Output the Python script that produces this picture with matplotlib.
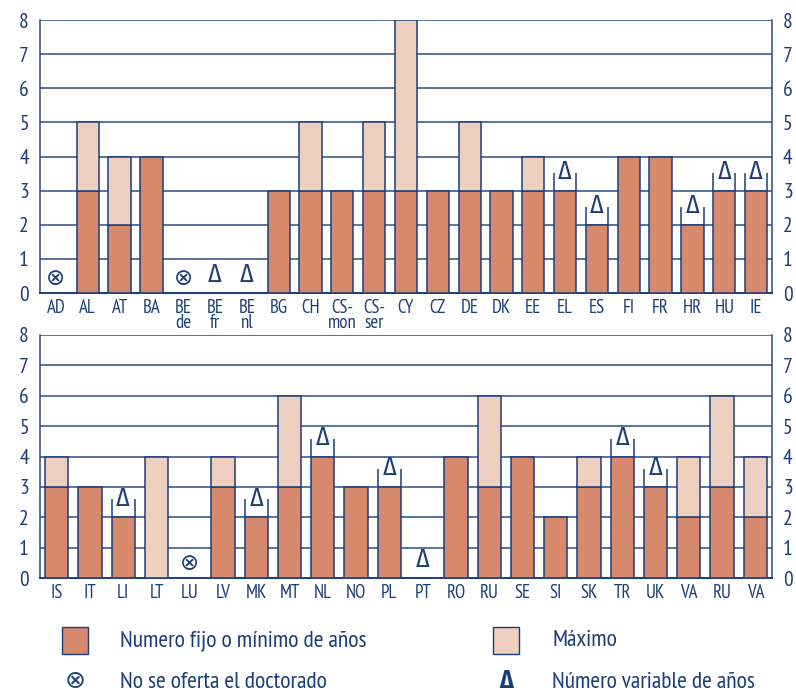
import matplotlib
matplotlib.use("Agg")
import matplotlib.pyplot as plt
from matplotlib import font_manager
from matplotlib.patches import Rectangle
import numpy as np

# ---------------- data ----------------
top_labels = ["AD", "AL", "AT", "BA", "BE\nde", "BE\nfr", "BE\nnl", "BG", "CH", "CS-\nmon",
              "CS-\nser", "CY", "CZ", "DE", "DK", "EE", "EL", "ES", "FI", "FR", "HR", "HU", "IE"]
top_min = [0, 3, 2, 4, 0, 0, 0, 3, 3, 3, 3, 3, 3, 3, 3, 3, 3, 2, 4, 4, 2, 3, 3]
top_max = [0, 5, 4, 4, 0, 0, 0, 3, 5, 3, 5, 8, 3, 5, 3, 4, 3, 2, 4, 4, 2, 3, 3]
top_none = ["AD", "BE\nde"]                       # no doctorate offered
top_var = ["BE\nfr", "BE\nnl", "EL", "ES", "HR", "HU", "IE"]   # variable number of years

bot_labels = ["IS", "IT", "LI", "LT", "LU", "LV", "MK", "MT", "NL", "NO", "PL",
              "PT", "RO", "RU", "SE", "SI", "SK", "TR", "UK", "VA", "RU", "VA"]
bot_min = [3, 3, 2, 0, 0, 3, 2, 3, 4, 3, 3, 0, 4, 3, 4, 2, 3, 4, 3, 2, 3, 2]
bot_max = [4, 3, 2, 4, 0, 4, 2, 6, 4, 3, 3, 0, 4, 6, 4, 2, 4, 4, 3, 4, 6, 4]
bot_none = [4]                                     # indices: LU
bot_var = [2, 6, 8, 10, 11, 17, 18]                # LI, MK, NL, PL, PT, TR, UK
top_none_idx = [top_labels.index(l) for l in top_none]
top_var_idx = [top_labels.index(l) for l in top_var]

legend_labels = ["Numero fijo o mínimo de años", "Máximo",
                 "No se oferta el doctorado", "Número variable de años"]

# ---------------- style ----------------
names = {f.name for f in font_manager.fontManager.ttflist}
main_font = "DejaVu Sans"
for cand in ["PT Sans Narrow", "Fira Sans Condensed", "Open Sans Condensed", "Roboto Condensed"]:
    if cand in names:
        main_font = cand
        break
sym_font = "Fira Sans Condensed" if "Fira Sans Condensed" in names else "DejaVu Sans"
plt.rcParams["font.family"] = [main_font, "DejaVu Sans"]

NAVY = "#1c3d78"
GRID = "#2a4c85"
DARK = "#d6896c"
LIGHT = "#efcfc0"
BAR_W = 0.70

W, H = 796, 693
fig = plt.figure(figsize=(W / 100, H / 100), dpi=100)

def panel(rect, labels, vmin, vmax, none_idx, var_idx):
    ax = fig.add_axes(rect)
    n = len(labels)
    x = np.arange(n)
    vmin = np.array(vmin, float)
    vmax = np.array(vmax, float)
    ax.set_xlim(-0.5, n - 0.5)
    ax.set_ylim(0, 8)
    for yv in range(1, 9):
        ax.axhline(yv, color=GRID, lw=1.1, zorder=1)
    ax.bar(x, vmin, width=BAR_W, color=DARK, edgecolor=NAVY, linewidth=1.1, zorder=3)
    ax.bar(x, vmax - vmin, bottom=vmin, width=BAR_W, color=LIGHT, edgecolor=NAVY,
           linewidth=1.1, zorder=3)
    for p in ax.patches:
        if p.get_height() == 0:
            p.set_visible(False)
    ax_px = rect[3] * H
    ext = 18 / (ax_px / 8.0)
    for i in var_idx:
        v = vmax[i]
        if v > 0:
            for xe in (x[i] - BAR_W / 2, x[i] + BAR_W / 2):
                ax.plot([xe, xe], [v, v + ext], color=NAVY, lw=1.1, zorder=4,
                        solid_capstyle="butt")
        ax.annotate("Δ", (x[i], v), xytext=(0, 4.5), textcoords="offset points",
                    ha="center", va="bottom", color=NAVY, fontsize=18.5,
                    family=[sym_font, "DejaVu Sans"], zorder=5)
    for i in none_idx:
        ax.annotate("⊗", (x[i], 0), xytext=(0, 2.5), textcoords="offset points",
                    ha="center", va="bottom", color=NAVY, fontsize=16.5,
                    family=["DejaVu Sans"], zorder=5)
    ax.set_xticks(x)
    ax.set_xticklabels(labels, linespacing=0.8)
    ax.set_yticks(range(0, 9))
    ax.tick_params(axis="both", length=0, colors=NAVY)
    ax.tick_params(axis="x", labelsize=13.5, pad=4)
    ax.tick_params(axis="y", labelsize=15.5, pad=8, labelright=True)
    for s in ("left", "right"):
        ax.spines[s].set_color(GRID)
        ax.spines[s].set_linewidth(1.1)
    ax.spines["top"].set_visible(False)
    ax.spines["bottom"].set_color(NAVY)
    ax.spines["bottom"].set_linewidth(1.4)
    return ax

l = 40 / W
w = (772 - 40) / W
panel([l, (H - 293) / H, w, 273 / H], top_labels, top_min, top_max, top_none_idx, top_var_idx)
panel([l, (H - 578) / H, w, 243 / H], bot_labels, bot_min, bot_max, bot_none, bot_var)

# ---------------- legend ----------------
def fx(px): return px / W
def fy(py): return 1 - py / H

fig.patches.append(Rectangle((fx(62), fy(654)), 26 / W, 27 / H, transform=fig.transFigure,
                             facecolor=DARK, edgecolor=NAVY, lw=1.0))
fig.patches.append(Rectangle((fx(493), fy(654)), 26 / W, 27 / H, transform=fig.transFigure,
                             facecolor=LIGHT, edgecolor=NAVY, lw=1.0))
LFS = 17
fig.text(fx(120), fy(641), legend_labels[0], color=NAVY, fontsize=LFS, va="center", ha="left")
fig.text(fx(552), fy(641), legend_labels[1], color=NAVY, fontsize=LFS, va="center", ha="left")
fig.text(fx(75), fy(681), "⊗", color=NAVY, fontsize=18, va="center", ha="center",
         family=["DejaVu Sans"])
fig.text(fx(120), fy(683), legend_labels[2], color=NAVY, fontsize=LFS, va="center", ha="left")
fig.text(fx(506), fy(681), "Δ", color=NAVY, fontsize=18, va="center", ha="center",
         fontweight="bold", family=[sym_font, "DejaVu Sans"])
fig.text(fx(552), fy(683), legend_labels[3], color=NAVY, fontsize=LFS, va="center", ha="left")

fig.savefig("out.png", dpi=100)
